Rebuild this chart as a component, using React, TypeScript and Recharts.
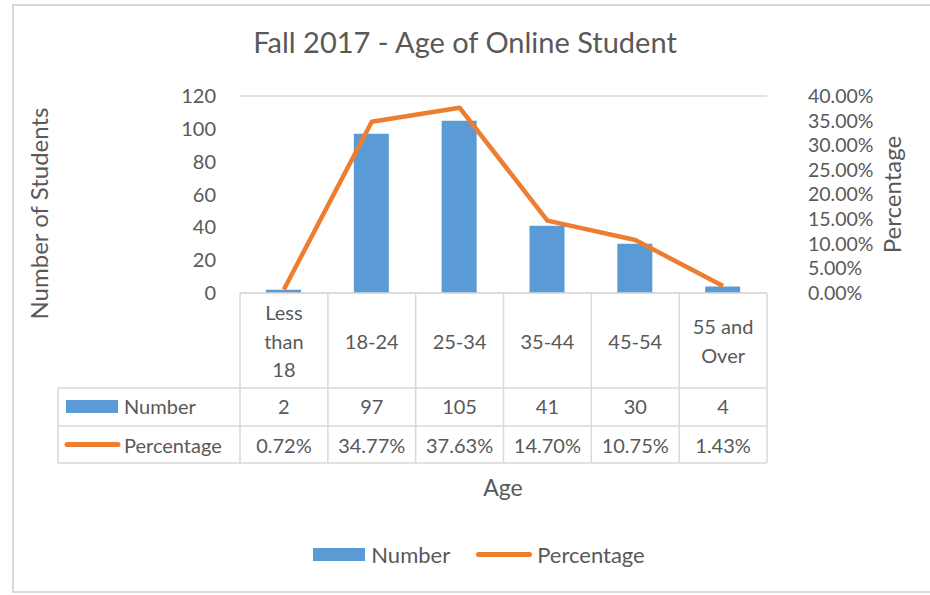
import React from "react";
import {
  ComposedChart,
  Bar,
  Line,
  XAxis,
  YAxis,
  CartesianGrid,
  Legend,
} from "recharts";

const categories = ["Less than 18", "18-24", "25-34", "35-44", "45-54", "55 and Over"];
const numbers = [2, 97, 105, 41, 30, 4];
const percentages = [0.72, 34.77, 37.63, 14.7, 10.75, 1.43];
const leftTicks = [0, 20, 40, 60, 80, 100, 120];
const rightTicks = [0, 5, 10, 15, 20, 25, 30, 35, 40];

const data = categories.map((age, i) => ({
  age,
  number: numbers[i],
  percentage: percentages[i],
}));

const FONT = "Lato, 'Open Sans', sans-serif";
const TEXT = "#595959";
const BORDER = "#d9d9d9";
const BLUE = "#5b9bd5";
const ORANGE = "#ed7d31";

const W = 930;
const H = 595;
const PLOT_LEFT = 240;
const PLOT_RIGHT = 767;
const PLOT_TOP = 96;
const PLOT_BOTTOM = 293;
const BAND = (PLOT_RIGHT - PLOT_LEFT) / categories.length;

// table rows (relative to plot bottom)
const ROW1 = 95; // category label row height
const ROW2 = 38;
const ROW3 = 37;
const TABLE_LEFT = 58;

const wrap = (s: string, max = 6) => {
  const lines: string[] = [];
  let cur = "";
  s.split(" ").forEach((w) => {
    if (!cur) cur = w;
    else if ((cur + " " + w).length <= max) cur = cur + " " + w;
    else {
      lines.push(cur);
      cur = w;
    }
  });
  if (cur) lines.push(cur);
  return lines;
};

const TableTick = (props: any) => {
  const { x, y, payload, index } = props;
  const left = x - BAND / 2;
  const right = x + BAND / 2;
  const yA = y + ROW1;
  const yB = yA + ROW2;
  const yC = yB + ROW3;
  const lines = wrap(String(payload.value));
  const lh = 28.5;
  const mid = y + ROW1 / 2;
  const last = index === categories.length - 1;
  const ln = { stroke: BORDER, strokeWidth: 1.5 };
  return (
    <g fontFamily={FONT} fontSize={20} fill={TEXT}>
      <line x1={left} x2={right} y1={y} y2={y} {...ln} />
      <line x1={left} x2={right} y1={yA} y2={yA} {...ln} />
      <line x1={left} x2={right} y1={yB} y2={yB} {...ln} />
      <line x1={left} x2={right} y1={yC} y2={yC} {...ln} />
      <line x1={left} x2={left} y1={y} y2={yC} {...ln} />
      {last && <line x1={right} x2={right} y1={y} y2={yC} {...ln} />}
      {lines.map((t, i) => (
        <text
          key={i}
          x={x}
          y={mid + (i - (lines.length - 1) / 2) * lh}
          textAnchor="middle"
          dominantBaseline="central"
        >
          {t}
        </text>
      ))}
      <text x={x} y={(yA + yB) / 2 - 1} textAnchor="middle" dominantBaseline="central">
        {numbers[index]}
      </text>
      <text x={x} y={(yB + yC) / 2} textAnchor="middle" dominantBaseline="central">
        {percentages[index].toFixed(2)}%
      </text>
      {index === 0 && (
        <g>
          <line x1={TABLE_LEFT} x2={left} y1={yA} y2={yA} {...ln} />
          <line x1={TABLE_LEFT} x2={left} y1={yB} y2={yB} {...ln} />
          <line x1={TABLE_LEFT} x2={left} y1={yC} y2={yC} {...ln} />
          <line x1={TABLE_LEFT} x2={TABLE_LEFT} y1={yA} y2={yC} {...ln} />
          <rect x={TABLE_LEFT + 8} y={(yA + yB) / 2 - 7} width={52} height={13} fill={BLUE} />
          <text x={TABLE_LEFT + 66} y={(yA + yB) / 2 - 1} dominantBaseline="central">
            Number
          </text>
          <line
            x1={TABLE_LEFT + 9}
            x2={TABLE_LEFT + 60}
            y1={(yB + yC) / 2}
            y2={(yB + yC) / 2}
            stroke={ORANGE}
            strokeWidth={5}
            strokeLinecap="round"
          />
          <text x={TABLE_LEFT + 66} y={(yB + yC) / 2} dominantBaseline="central">
            Percentage
          </text>
        </g>
      )}
    </g>
  );
};

const LeftTitle = (props: any) => {
  const { viewBox } = props;
  const cy = viewBox.y + viewBox.height / 2 + 19;
  const cx = 38;
  return (
    <text
      x={cx}
      y={cy}
      transform={`rotate(-90 ${cx} ${cy})`}
      textAnchor="middle"
      dominantBaseline="central"
      fontFamily={FONT}
      fontSize={24}
      fill={TEXT}
    >
      Number of Students
    </text>
  );
};

const RightTitle = (props: any) => {
  const { viewBox } = props;
  const cy = viewBox.y + viewBox.height / 2;
  const cx = 891;
  return (
    <text
      x={cx}
      y={cy}
      transform={`rotate(-90 ${cx} ${cy})`}
      textAnchor="middle"
      dominantBaseline="central"
      fontFamily={FONT}
      fontSize={24}
      fill={TEXT}
    >
      Percentage
    </text>
  );
};

const LegendContent = () => (
  <div
    style={{
      display: "flex",
      justifyContent: "center",
      alignItems: "center",
      fontFamily: FONT,
      fontSize: 22,
      color: TEXT,
      paddingLeft: 28,
    }}
  >
    <span style={{ display: "inline-block", width: 52, height: 13, background: BLUE, marginRight: 6 }} />
    <span style={{ marginRight: 26 }}>Number</span>
    <span
      style={{
        display: "inline-block",
        width: 56,
        height: 5,
        borderRadius: 3,
        background: ORANGE,
        marginRight: 5,
      }}
    />
    <span>Percentage</span>
  </div>
);

export default function App() {
  return (
    <div
      style={{
        position: "absolute",
        left: 0,
        top: 0,
        width: W,
        height: H,
        background: "#fff",
        overflow: "hidden",
      }}
    >
      <div
        style={{
          position: "absolute",
          left: 12,
          top: 4,
          width: W,
          height: 589,
          border: `2px solid ${BORDER}`,
          boxSizing: "border-box",
        }}
      />
      <div
        style={{
          position: "absolute",
          left: 0,
          top: 22,
          width: W,
          textAlign: "center",
          fontFamily: FONT,
          fontSize: 29,
          color: TEXT,
          lineHeight: "40px",
        }}
      >
        Fall 2017 - Age of Online Student
      </div>
      <div
        style={{
          position: "absolute",
          left: 503,
          top: 473,
          transform: "translateX(-50%)",
          fontFamily: FONT,
          fontSize: 23,
          color: TEXT,
          lineHeight: "28px",
        }}
      >
        Age
      </div>
      <div style={{ position: "absolute", left: 0, top: 0 }}>
        <ComposedChart
          width={W}
          height={H}
          data={data}
          margin={{ top: PLOT_TOP, bottom: 0, left: PLOT_LEFT - 80, right: W - PLOT_RIGHT - 80 }}
          barCategoryGap={26}
        >
          <CartesianGrid vertical={false} stroke={BORDER} strokeWidth={1.5} />
          <XAxis
            dataKey="age"
            xAxisId="x"
            height={H - PLOT_BOTTOM}
            axisLine={false}
            tickLine={false}
            tickSize={0}
            tickMargin={0}
            interval={0}
            tick={<TableTick />}
          />
          <YAxis
            yAxisId="left"
            orientation="left"
            width={80}
            domain={[0, 120]}
            ticks={leftTicks}
            interval={0}
            axisLine={false}
            tickLine={false}
            tickSize={6}
            tickMargin={18}
            tick={{ fontFamily: FONT, fontSize: 20, fill: TEXT }}
            label={<LeftTitle />}
          />
          <YAxis
            yAxisId="right"
            orientation="right"
            width={80}
            domain={[0, 40]}
            ticks={rightTicks}
            interval={0}
            axisLine={false}
            tickLine={false}
            tickSize={6}
            tickMargin={35}
            tickFormatter={(v: number) => `${v.toFixed(2)}%`}
            tick={{ fontFamily: FONT, fontSize: 19.5, fill: TEXT }}
            label={<RightTitle />}
          />
          <Bar
            dataKey="number"
            xAxisId="x"
            yAxisId="left"
            fill={BLUE}
            barSize={35}
            isAnimationActive={false}
          />
          <Line
            dataKey="percentage"
            xAxisId="x"
            yAxisId="right"
            stroke={ORANGE}
            strokeWidth={4.5}
            dot={false}
            type="linear"
            strokeLinejoin="round"
            isAnimationActive={false}
          />
          <Legend
            verticalAlign="middle"
            align="center"
            layout="horizontal"
            wrapperStyle={{ top: 541, left: 0, width: W }}
            content={<LegendContent />}
          />
        </ComposedChart>
      </div>
    </div>
  );
}
